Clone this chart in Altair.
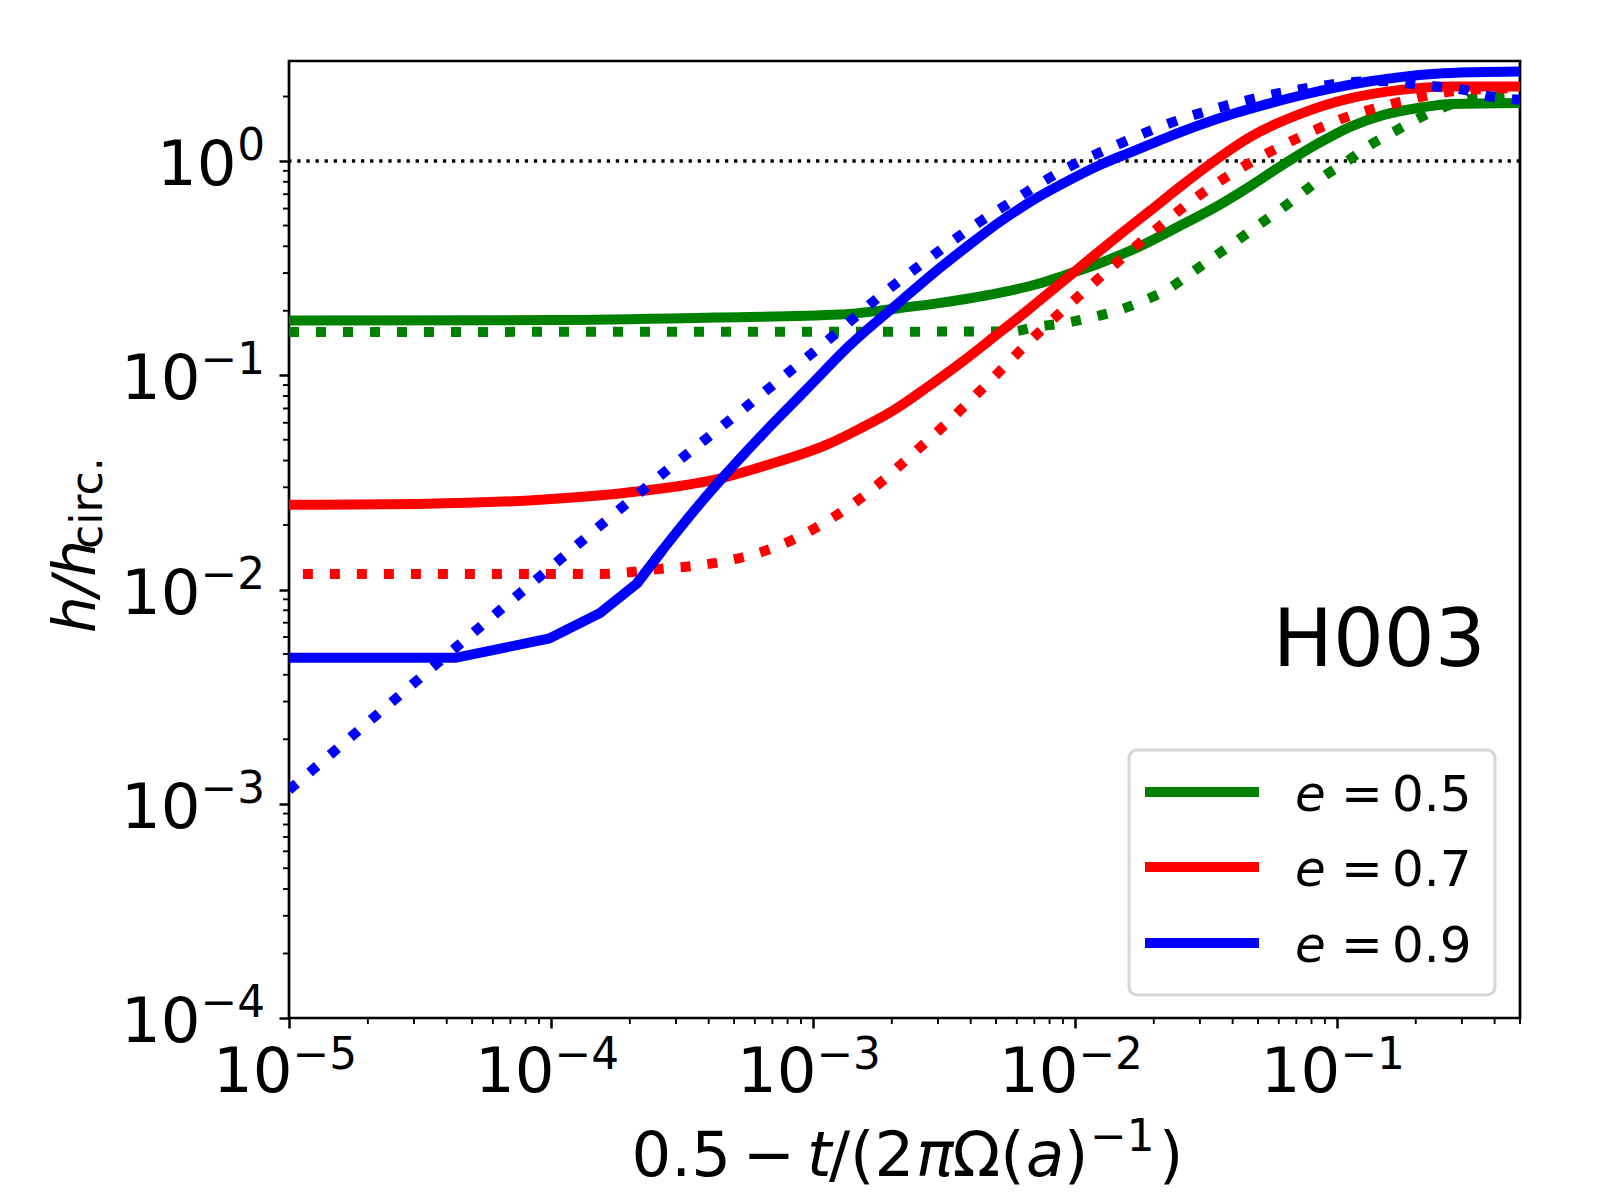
import altair as alt
import pandas as pd

# ---------------- data ----------------
# e = 0.5 solid
gs_x = [1e-5, 1e-4, 4.21e-4, 1.27e-3, 2.155e-3, 2.887e-3, 3.876e-3, 5.192e-3, 6.961e-3, 9.385e-3,
        0.0125, 0.0179, 0.0254, 0.0351, 0.0471, 0.0628, 0.0845, 0.1135, 0.151, 0.204,
        0.273, 0.5]
gs_y = [0.180, 0.181, 0.186, 0.192, 0.2062, 0.2154, 0.2276, 0.2430, 0.2638, 0.2960,
        0.3342, 0.4025, 0.5012, 0.6174, 0.7686, 0.9676, 1.205, 1.452, 1.643, 1.769,
        1.848, 1.868]
# e = 0.5 dotted
gd_x = [1e-5, 5.68e-3, 7.16e-3, 9.10e-3, 0.01153, 0.01454, 0.01837, 0.02288, 0.0280, 0.0344,
        0.0416, 0.0507, 0.0612, 0.0739, 0.0891, 0.1096, 0.1346, 0.1687, 0.2053, 0.257,
        0.3247, 0.421, 0.5]
gd_y = [0.1593, 0.160, 0.1687, 0.175, 0.186, 0.2003, 0.2232, 0.254, 0.3027, 0.3607,
        0.425, 0.507, 0.597, 0.712, 0.848, 1.00, 1.192, 1.39, 1.585, 1.788,
        1.952, 2.017, 2.04]
# e = 0.7 solid
rs_x = [1e-5, 3.12e-5, 9.09e-5, 2.13e-4, 4.45e-4, 6.60e-4, 1.13e-3, 1.519e-3, 2.04e-3, 2.721e-3,
        3.66e-3, 4.875e-3, 6.55e-3, 9.64e-3, 0.0125, 0.01537, 0.01941, 0.02528, 0.03384, 0.04694,
        0.07287, 0.1131, 0.1755, 0.2726, 0.5]
rs_y = [0.02485, 0.0251, 0.02624, 0.02866, 0.03304, 0.03791, 0.04744, 0.05654, 0.06888, 0.08767,
        0.1141, 0.1500, 0.1995, 0.2944, 0.3831, 0.4693, 0.5875, 0.7603, 0.9945, 1.301,
        1.665, 1.965, 2.149, 2.227, 2.23]
# e = 0.7 dotted
rd_x = [1.13e-5, 1.58e-4, 2.79e-4, 3.49e-4, 4.45e-4, 5.66e-4, 7.09e-4, 1.10e-3, 1.66e-3, 2.36e-3,
        3.41e-3, 4.79e-3, 6.79e-3, 9.64e-3, 0.0139, 0.02005, 0.02932, 0.04429, 0.06873, 0.1067,
        0.1701, 0.2712, 0.421, 0.5]
rd_y = [0.01183, 0.01183, 0.01259, 0.01287, 0.01345, 0.01436, 0.01567, 0.0204, 0.02896, 0.04205,
        0.06344, 0.09519, 0.146, 0.2169, 0.3219, 0.4718, 0.6814, 0.9467, 1.257, 1.59,
        1.875, 2.11, 2.178, 2.19]
# e = 0.9 solid
bs_x = [1e-5, 4.32e-5, 9.85e-5, 1.54e-4, 2.13e-4, 2.69e-4, 3.83e-4, 4.29e-4, 6.31e-4, 9.44e-4,
        1.39e-3, 2.155e-3, 2.887e-3, 3.876e-3, 5.192e-3, 6.961e-3, 9.324e-3, 0.0125, 0.01666, 0.0224,
        0.03011, 0.04049, 0.05443, 0.07318, 0.0984, 0.1323, 0.1779, 0.2391, 0.3215, 0.5]
bs_y = [0.0048, 0.0048, 0.005907, 0.007772, 0.01068, 0.0155, 0.02638, 0.03094, 0.0518, 0.08577,
        0.1389, 0.2210, 0.3000, 0.3990, 0.5220, 0.6592, 0.8029, 0.9603, 1.110, 1.287,
        1.476, 1.665, 1.848, 2.028, 2.202, 2.351, 2.471, 2.553, 2.596, 2.617]
# e = 0.9 dotted
bd_x = [1e-5, 2.99e-5, 9.09e-5, 2.78e-4, 4.91e-4, 1.27e-3, 1.83e-3, 2.68e-3, 3.99e-3, 6.01e-3,
        9.05e-3, 0.01404, 0.02199, 0.0351, 0.05592, 0.08915, 0.1131, 0.1434, 0.186, 0.2391,
        0.3019, 0.3882, 0.5]
bd_y = [0.001159, 0.003646, 0.01153, 0.03614, 0.0631, 0.1628, 0.2378, 0.3396, 0.4861, 0.6709,
        0.9099, 1.170, 1.471, 1.769, 2.035, 2.251, 2.334, 2.365, 2.308, 2.227,
        2.154, 2.0, 1.931]

e_labels = ["0.5", "0.7", "0.9"]
e_colors = ["#008000", "#ff0000", "#0000ff"]

x_major = [1e-5, 1e-4, 1e-3, 1e-2, 1e-1]
x_exps = ["\u22125", "\u22124", "\u22123", "\u22122", "\u22121"]
y_major = [1e-4, 1e-3, 1e-2, 1e-1, 1.0]
y_exps = ["\u22124", "\u22123", "\u22122", "\u22121", "0"]
x_minor = [k * 10.0 ** d for d in range(-5, 0) for k in range(2, 10) if k * 10.0 ** d <= 0.5]
y_minor = [k * 10.0 ** d for d in range(-4, 1) for k in range(2, 10) if k * 10.0 ** d <= 2.93]

# ---------------- chart ----------------
W, H = 1231, 957
FONT = "DejaVu Sans"
xs = alt.Scale(type="log", domain=[1e-5, 0.5], nice=False)
ys = alt.Scale(type="log", domain=[1e-4, 2.93], nice=False)
x_axis = alt.Axis(values=x_major, labels=False, ticks=True, tickSize=10, tickWidth=2.5,
                  tickColor="black", domain=False, grid=False, title=None)
y_axis = alt.Axis(values=y_major, labels=False, ticks=True, tickSize=10, tickWidth=2.5,
                  tickColor="black", domain=False, grid=False, title=None)


def X(f):
    return alt.X(f + ":Q", scale=xs, axis=x_axis)


def Y(f):
    return alt.Y(f + ":Q", scale=ys, axis=y_axis)


one = pd.DataFrame({"a": [0]})


def txt(s, x, y, size, style="normal", align="left", angle=0):
    return alt.Chart(one).mark_text(
        text=s, fontSize=size, fontStyle=style, align=align, baseline="alphabetic",
        angle=angle, font=FONT, color="black"
    ).encode(x=alt.value(x), y=alt.value(y))


def line(sx, sy, col, dotted, interp):
    kw = dict(color=col, strokeWidth=10, interpolate=interp, clip=True)
    if dotted:
        kw["strokeDash"] = [10, 17]
    return alt.Chart(pd.DataFrame({"x": sx, "y": sy})).mark_line(**kw).encode(x=X("x"), y=Y("y"))


layers = []

# reference line h = h_circ
layers.append(
    alt.Chart(pd.DataFrame({"y": [1.0]})).mark_rule(
        color="black", strokeWidth=3.3, strokeDash=[3.3, 5.8]
    ).encode(y=Y("y"))
)

layers.append(line(gs_x, gs_y, e_colors[0], False, "monotone"))
layers.append(line(gd_x, gd_y, e_colors[0], True, "monotone"))
layers.append(line(rs_x, rs_y, e_colors[1], False, "monotone"))
layers.append(line(rd_x, rd_y, e_colors[1], True, "monotone"))
# e = 0.9 solid: coarse early samples drawn straight, smooth afterwards
layers.append(line(bs_x[:6], bs_y[:6], e_colors[2], False, "linear"))
layers.append(line(bs_x[4:], bs_y[4:], e_colors[2], False, "monotone"))
layers.append(line(bd_x, bd_y, e_colors[2], True, "monotone"))

# minor ticks
layers.append(
    alt.Chart(pd.DataFrame({"v": x_minor})).mark_rule(color="black", strokeWidth=1.9).encode(
        x=X("v"), y=alt.value(H), y2=alt.value(H + 6))
)
layers.append(
    alt.Chart(pd.DataFrame({"v": y_minor})).mark_rule(color="black", strokeWidth=1.9).encode(
        y=Y("v"), x=alt.value(0), x2=alt.value(-6))
)

# tick labels 10^n
xl = pd.DataFrame({"v": x_major, "e": x_exps})
layers.append(
    alt.Chart(xl).mark_text(text="10", fontSize=62.5, align="right", baseline="alphabetic",
                            dx=3.5, font=FONT, color="black").encode(x=X("v"), y=alt.value(H + 74))
)
layers.append(
    alt.Chart(xl).mark_text(fontSize=43.75, align="left", baseline="alphabetic",
                            dx=3.5, font=FONT, color="black").encode(
        x=X("v"), y=alt.value(H + 51), text="e:N")
)
yl = pd.DataFrame({"v": y_major, "e": y_exps})
layers.append(
    alt.Chart(yl).transform_filter("datum.e != '0'").mark_text(
        text="10", fontSize=62.5, align="right", baseline="alphabetic", dy=24,
        font=FONT, color="black").encode(y=Y("v"), x=alt.value(-88.5))
)
layers.append(
    alt.Chart(yl).transform_filter("datum.e == '0'").mark_text(
        text="10", fontSize=62.5, align="right", baseline="alphabetic", dy=24,
        font=FONT, color="black").encode(y=Y("v"), x=alt.value(-52.5))
)
layers.append(
    alt.Chart(yl).mark_text(fontSize=43.75, align="right", baseline="alphabetic", dy=-1,
                            font=FONT, color="black").encode(
        y=Y("v"), x=alt.value(-24), text="e:N")
)

# x axis title: 0.5 - t/(2 pi Omega(a)^-1)
TY = 1115
layers += [
    txt("0.5", 342.5, TY, 62.5),
    txt("\u2212", 453.6, TY, 62.5),
    txt("t", 518, TY, 62.5, "italic"),
    txt("/(2", 540, TY, 62.5),
    txt("\u03c0", 627, TY, 62.5, "italic"),
    txt("\u03a9(", 663.5, TY, 62.5),
    txt("a", 737, TY, 62.5, "italic"),
    txt(")", 775, TY, 62.5),
    txt("\u22121", 801, TY - 25, 43.75),
    txt(")", 870, TY, 62.5),
]

# y axis title: h/h_circ.
layers += [
    txt("h/h", -194, 572, 58, "italic", angle=270),
    txt("circ.", -187.3, 488, 44, angle=270),
]

# label H003
layers.append(txt("H003", 1196.6, 605, 80, align="right"))

# legend
layers.append(
    alt.Chart(one).mark_rect(fill="white", stroke="#d6d6d6", strokeWidth=3, cornerRadius=8).encode(
        x=alt.value(840), x2=alt.value(1206), y=alt.value(689), y2=alt.value(934))
)
row_y = [731, 806, 882]
for lab, col, ry in zip(e_labels, e_colors, row_y):
    layers.append(
        alt.Chart(one).mark_rule(color=col, strokeWidth=10).encode(
            x=alt.value(856), x2=alt.value(970), y=alt.value(ry))
    )
    layers += [
        txt("e", 1006, ry + 19, 50, "italic"),
        txt("=", 1052, ry + 19, 50),
        txt(lab, 1103, ry + 19, 50),
    ]

chart = alt.layer(*layers).properties(
    width=W, height=H,
    padding={"left": 281, "top": 53, "right": 72, "bottom": 174},
    autosize=alt.AutoSizeParams(type="none"),
    background="white",
).configure_view(stroke="black", strokeWidth=2.7)

chart.save("out.html", embed_options={"renderer": "svg", "actions": False})
